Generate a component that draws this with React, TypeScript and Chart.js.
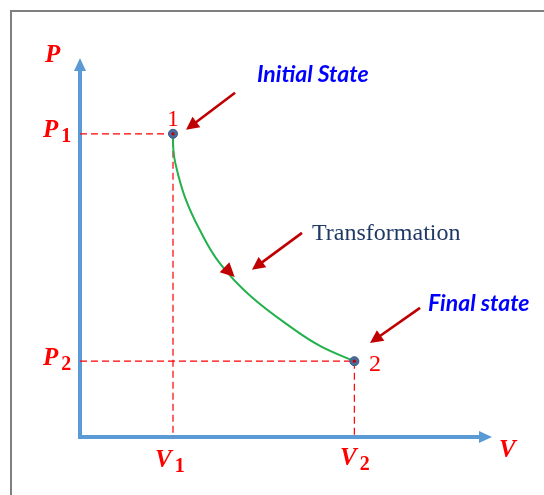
import React, { useEffect, useRef } from "react";
import { Chart, registerables } from "chart.js";

Chart.register(...registerables);

// Axis extents (data units)
const X_MAX = 4.43;
const Y_MAX = 5;

// States 1 and 2
const STATE_V = [1.0, 2.95];
const STATE_P = [4, 1];
const STATE_NAMES = ["1", "2"];

// Transformation curve
const CURVE_V = [1.0, 1.003, 1.025, 1.126, 1.287, 1.502, 1.839, 2.309, 2.595, 2.95];
const CURVE_P = [4.0, 3.81, 3.613, 3.172, 2.733, 2.293, 1.852, 1.413, 1.192, 1.0];

// Annotation arrows: [tailV, tailP, tipV, tipP]
const ARROWS = [
  [1.667, 4.541, 1.14, 4.053],
  [2.387, 2.693, 1.849, 2.205],
  [3.656, 1.703, 3.118, 1.241],
];
// small arrowhead on the curve
const CURVE_ARROW = [1.516, 2.284, 1.663, 2.112];

// Axis-style labels: main letter + subscript, anchored at left/baseline
const AXIS_LABELS = [
  { main: "P", sub: "", v: -0.376, p: 4.95 },
  { main: "V", sub: "", v: 4.505, p: -0.264 },
  { main: "P", sub: "1", v: -0.398, p: 3.96 },
  { main: "P", sub: "2", v: -0.398, p: 0.95 },
  { main: "V", sub: "1", v: 0.806, p: -0.396 },
  { main: "V", sub: "2", v: 2.796, p: -0.37 },
];
const STATE_LABEL_POS = [
  [1.0, 4.106],
  [3.172, 0.871],
];
const NOTES = [
  { text: "Initial State", v: 1.903, p: 4.686, kind: "blue" },
  { text: "Transformation", v: 2.495, p: 2.6, kind: "serif" },
  { text: "Final state", v: 3.742, p: 1.663, kind: "blue" },
];

const AXIS_BLUE = "#5B9BD5";
const DARK_RED = "#C00000";

function drawArrowHead(ctx: CanvasRenderingContext2D, x0: number, y0: number, x1: number, y1: number, len: number, half: number, color: string) {
  const a = Math.atan2(y1 - y0, x1 - x0);
  ctx.save();
  ctx.fillStyle = color;
  ctx.beginPath();
  ctx.moveTo(x1, y1);
  ctx.lineTo(x1 - len * Math.cos(a) + half * Math.sin(a), y1 - len * Math.sin(a) - half * Math.cos(a));
  ctx.lineTo(x1 - len * Math.cos(a) - half * Math.sin(a), y1 - len * Math.sin(a) + half * Math.cos(a));
  ctx.closePath();
  ctx.fill();
  ctx.restore();
}

const annotPlugin = {
  id: "annot",
  beforeDatasetsDraw(chart: any) {
    const ctx: CanvasRenderingContext2D = chart.ctx;
    const xs = chart.scales.x;
    const ys = chart.scales.y;
    // frame
    ctx.save();
    ctx.strokeStyle = "#7F7F7F";
    ctx.lineWidth = 2;
    ctx.beginPath();
    ctx.moveTo(11, 495);
    ctx.lineTo(11, 11);
    ctx.lineTo(544, 11);
    ctx.stroke();
    ctx.restore();
    // axes
    const x0 = xs.getPixelForValue(0);
    const y0 = ys.getPixelForValue(0);
    const xe = xs.getPixelForValue(X_MAX);
    const ye = ys.getPixelForValue(Y_MAX);
    ctx.save();
    ctx.strokeStyle = AXIS_BLUE;
    ctx.lineWidth = 4;
    ctx.lineCap = "butt";
    ctx.beginPath();
    ctx.moveTo(x0, ye + 10);
    ctx.lineTo(x0, y0);
    ctx.lineTo(xe - 10, y0);
    ctx.stroke();
    ctx.restore();
    drawArrowHead(ctx, x0, y0, x0, ye, 13, 6, AXIS_BLUE);
    drawArrowHead(ctx, x0, y0, xe, y0, 13, 6, AXIS_BLUE);
  },
  afterDatasetsDraw(chart: any) {
    const ctx: CanvasRenderingContext2D = chart.ctx;
    const xs = chart.scales.x;
    const ys = chart.scales.y;
    const X = (v: number) => xs.getPixelForValue(v);
    const Y = (p: number) => ys.getPixelForValue(p);

    // arrows
    ARROWS.forEach(([a, b, c, d]) => {
      const x0 = X(a), y0 = Y(b), x1 = X(c), y1 = Y(d);
      const ang = Math.atan2(y1 - y0, x1 - x0);
      ctx.save();
      ctx.strokeStyle = DARK_RED;
      ctx.lineWidth = 2.6;
      ctx.beginPath();
      ctx.moveTo(x0, y0);
      ctx.lineTo(x1 - 10 * Math.cos(ang), y1 - 10 * Math.sin(ang));
      ctx.stroke();
      ctx.restore();
      drawArrowHead(ctx, x0, y0, x1, y1, 13, 6.5, DARK_RED);
    });
    {
      const [a, b, c, d] = CURVE_ARROW;
      drawArrowHead(ctx, X(a), Y(b), X(c), Y(d), 14, 7, DARK_RED);
    }

    // state labels
    ctx.save();
    ctx.fillStyle = "#FF0000";
    ctx.textAlign = "center";
    ctx.textBaseline = "alphabetic";
    STATE_NAMES.forEach((n, i) => {
      ctx.font = (i === 0 ? "23px" : "24px") + " 'Liberation Serif', serif";
      ctx.fillText(n, X(STATE_LABEL_POS[i][0]), Y(STATE_LABEL_POS[i][1]));
    });
    ctx.restore();

    // axis labels
    ctx.save();
    ctx.fillStyle = "#FF0000";
    ctx.textAlign = "left";
    ctx.textBaseline = "alphabetic";
    AXIS_LABELS.forEach((l) => {
      const x = X(l.v), y = Y(l.p);
      ctx.font = "bold italic 25px 'Liberation Serif', serif";
      ctx.fillText(l.main, x, y);
      if (l.sub) {
        const w = ctx.measureText(l.main).width;
        ctx.font = "bold 20px 'Liberation Serif', serif";
        ctx.fillText(l.sub, x + w + 3, y + 5);
      }
    });
    ctx.restore();

    // notes
    ctx.save();
    ctx.textAlign = "left";
    ctx.textBaseline = "alphabetic";
    NOTES.forEach((n) => {
      if (n.kind === "blue") {
        ctx.fillStyle = "#0000FF";
        ctx.font = "bold italic 23px Lato, 'Open Sans', sans-serif";
      } else {
        ctx.fillStyle = "#1F3864";
        ctx.font = "24px 'Liberation Serif', serif";
      }
      ctx.fillText(n.text, X(n.v), Y(n.p));
    });
    ctx.restore();
  },
};

export default function App() {
  const ref = useRef<HTMLCanvasElement | null>(null);
  useEffect(() => {
    if (!ref.current) return;
    const curve = CURVE_V.map((v, i) => ({ x: v, y: CURVE_P[i] }));
    const dash1 = [
      { x: 0, y: STATE_P[0] },
      { x: STATE_V[0], y: STATE_P[0] },
      { x: STATE_V[0], y: 0 },
    ];
    const dash2 = [
      { x: 0, y: STATE_P[1] },
      { x: STATE_V[1], y: STATE_P[1] },
      { x: STATE_V[1], y: 0 },
    ];
    const pts = STATE_V.map((v, i) => ({ x: v, y: STATE_P[i] }));
    const chart = new Chart(ref.current, {
      type: "scatter",
      data: {
        datasets: [
          {
            data: dash1,
            showLine: true,
            borderColor: "#FF0000",
            borderWidth: 1.2,
            borderDash: [7, 4],
            pointRadius: 0,
            tension: 0,
            clip: false,
            order: 4,
          } as any,
          {
            data: dash2,
            showLine: true,
            borderColor: "#FF0000",
            borderWidth: 1.2,
            borderDash: [7, 4],
            pointRadius: 0,
            tension: 0,
            clip: false,
            order: 3,
          } as any,
          {
            data: curve,
            showLine: true,
            borderColor: "#22B14C",
            borderWidth: 2,
            pointRadius: 0,
            tension: 0.4,
            capBezierPoints: false,
            clip: false,
            order: 2,
          } as any,
          {
            data: pts,
            showLine: false,
            pointRadius: 4.5,
            pointBackgroundColor: "#4A6A9A",
            pointBorderColor: "#3A5A8A",
            pointBorderWidth: 1,
            clip: false,
            order: 1,
          } as any,
          {
            data: pts,
            showLine: false,
            pointRadius: 1.6,
            pointBackgroundColor: "#C00000",
            pointBorderWidth: 0,
            clip: false,
            order: 0,
          } as any,
        ],
      },
      options: {
        animation: false,
        responsive: false,
        layout: { padding: { left: 80, right: 52, top: 58, bottom: 58 } },
        scales: {
          x: { type: "linear", min: 0, max: X_MAX, display: false },
          y: { type: "linear", min: 0, max: Y_MAX, display: false },
        },
        plugins: { legend: { display: false }, tooltip: { enabled: false } },
        events: [],
      },
      plugins: [annotPlugin],
    });
    return () => chart.destroy();
  }, []);
  return (
    <div style={{ position: "fixed", left: 0, top: 0, width: 544, height: 495, background: "#fff" }}>
      <canvas ref={ref} width={544} height={495} style={{ display: "block", width: 544, height: 495 }} />
    </div>
  );
}
